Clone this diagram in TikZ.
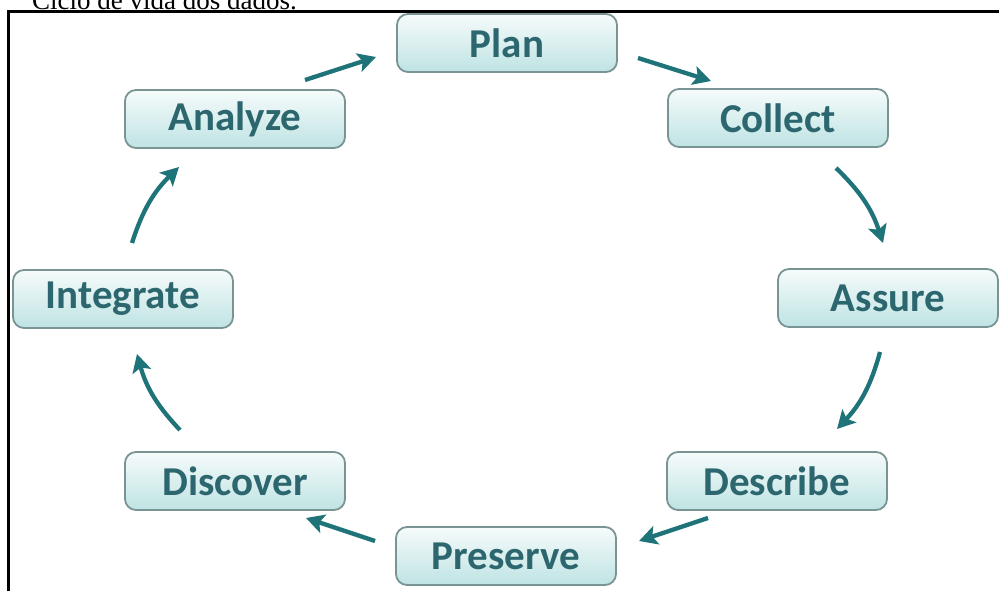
\documentclass[tikz,border=0pt]{standalone}
\usepackage{fontspec}
\setmainfont{Liberation Serif}
\newfontfamily\boxfont{Carlito}
\usetikzlibrary{arrows.meta}
\definecolor{boxtext}{HTML}{2C666E}
\definecolor{boxline}{HTML}{7A9494}
\definecolor{boxtop}{HTML}{F6FBFB}
\definecolor{boxbot}{HTML}{BFE3E3}
\definecolor{arrowcol}{HTML}{1F7479}
\tikzset{
  stagebox/.style={draw=boxline, line width=1.8pt, rounded corners=11pt,
    top color=boxtop, bottom color=boxbot, minimum width=220pt, minimum height=58pt,
    inner sep=0pt, text=boxtext, font=\boxfont\bfseries\fontsize{41}{43}\selectfont},
  cyclearrow/.style={draw=arrowcol, line width=4.3pt,
    -{Stealth[length=18pt,width=19pt,inset=4pt]}},
}
\begin{document}
\begin{tikzpicture}[x=1pt,y=-1pt]
\clip (0,0) rectangle (999,590);
\fill[white] (0,0) rectangle (999,590);
% caption, cut by the top edge
\node[anchor=base west, inner sep=0pt, font=\fontsize{27}{30}\selectfont] (caption) at (32,9) {Ciclo de vida dos dados.};
% frame
\draw[line width=3pt] (8.5,600) -- (8.5,11.5) -- (1010,11.5);
% boxes
\node[stagebox] (plan) at (507,43) {Plan};
\node[stagebox] (collect) at (778,118) {Collect};
\node[stagebox] (assure) at (888,298) {Assure};
\node[stagebox] (describe) at (777,481) {Describe};
\node[stagebox] (preserve) at (506,556) {Preserve};
\node[stagebox] (discover) at (235,481) {Discover};
\node[stagebox] (integrate) at (123,299) {Integrate};
\node[stagebox] (analyze) at (235,119) {Analyze};
% arrow ends
\coordinate (a1s) at (305,80);  \coordinate (a1e) at (376,57);
\coordinate (a2s) at (638,58);  \coordinate (a2e) at (711,81);
\coordinate (a3s) at (836,168); \coordinate (a3e) at (883,243);
\coordinate (a4s) at (880,352); \coordinate (a4e) at (837,429);
\coordinate (a5s) at (708,518); \coordinate (a5e) at (639,541);
\coordinate (a6s) at (375,541); \coordinate (a6e) at (306,518);
\coordinate (a7s) at (180,430); \coordinate (a7e) at (137,354);
\coordinate (a8s) at (132,243); \coordinate (a8e) at (179,167);
\draw[cyclearrow] (a1s) -- (a1e);
\draw[cyclearrow] (a2s) -- (a2e);
\draw[cyclearrow] (a3s) to[bend left=14] (a3e);
\draw[cyclearrow] (a4s) to[bend left=14] (a4e);
\draw[cyclearrow] (a5s) -- (a5e);
\draw[cyclearrow] (a6s) -- (a6e);
\draw[cyclearrow] (a7s) to[bend left=14] (a7e);
\draw[cyclearrow] (a8s) to[bend left=14] (a8e);
\end{tikzpicture}
\end{document}
